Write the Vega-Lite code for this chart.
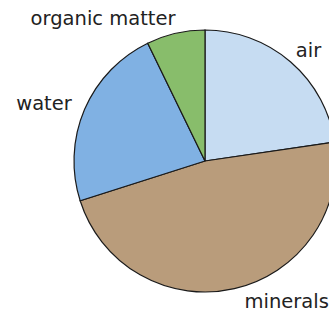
{
  "$schema": "https://vega.github.io/schema/vega-lite/v6.json",
  "width": 248,
  "height": 306,
  "padding": {"left": 81, "top": 8, "right": 0, "bottom": 0},
  "autosize": "none",
  "background": "white",
  "view": {"stroke": null},
  "data": {
    "values": [
      {"category": "air", "percent": 22.7, "i": 1},
      {"category": "minerals", "percent": 47.4, "i": 2},
      {"category": "water", "percent": 22.7, "i": 3},
      {"category": "organic matter", "percent": 7.2, "i": 4}
    ]
  },
  "encoding": {
    "theta": {"field": "percent", "type": "quantitative", "stack": true},
    "order": {"field": "i", "type": "quantitative"}
  },
  "layer": [
    {
      "mark": {"type": "arc", "outerRadius": 131, "stroke": "#1a1a1a", "strokeWidth": 1.2},
      "encoding": {
        "color": {
          "field": "category",
          "type": "nominal",
          "scale": {
            "domain": ["air", "minerals", "water", "organic matter"],
            "range": ["#c6dcf2", "#b99c7b", "#80b1e3", "#88bd6b"]
          },
          "legend": null
        }
      }
    },
    {
      "mark": {"type": "text", "radius": 145, "dx": -4, "align": "left", "baseline": "middle", "font": "DejaVu Sans", "fontSize": 19.5, "color": "#222222"},
      "encoding": {
        "text": {"condition": {"test": "datum.category === 'air'", "field": "category"}, "value": ""}
      }
    },
    {
      "mark": {"type": "text", "radius": 145, "dx": 7, "align": "left", "baseline": "middle", "font": "DejaVu Sans", "fontSize": 19.5, "color": "#222222"},
      "encoding": {
        "text": {"condition": {"test": "datum.category === 'minerals'", "field": "category"}, "value": ""}
      }
    },
    {
      "mark": {"type": "text", "radius": 145, "align": "right", "baseline": "middle", "font": "DejaVu Sans", "fontSize": 19.5, "color": "#222222"},
      "encoding": {
        "text": {"condition": {"test": "datum.category === 'water'", "field": "category"}, "value": ""}
      }
    },
    {
      "mark": {"type": "text", "radius": 145, "dx": 3, "dy": -1, "align": "right", "baseline": "middle", "font": "DejaVu Sans", "fontSize": 19.5, "color": "#222222"},
      "encoding": {
        "text": {"condition": {"test": "datum.category === 'organic matter'", "field": "category"}, "value": ""}
      }
    }
  ]
}
